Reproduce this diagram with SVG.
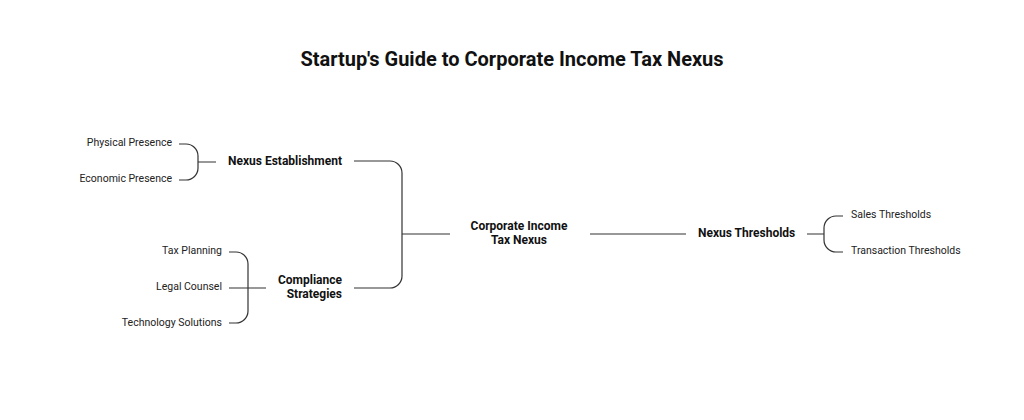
<svg xmlns="http://www.w3.org/2000/svg" width="1024" height="420" viewBox="0 0 1024 420">
<style>
.title{font-family:Roboto,"Liberation Sans",sans-serif;font-weight:700;font-size:20px;fill:#111;}
.node{font-family:Roboto,"Liberation Sans",sans-serif;font-weight:700;font-size:12px;fill:#111;}
.leaf{font-family:Roboto,"Liberation Sans",sans-serif;font-size:10.5px;fill:#222;}
.c{fill:none;stroke:#333;stroke-width:1.2;}
</style>
<rect width="1024" height="420" fill="#fff"/>
<text class="title" x="512" y="66" text-anchor="middle">Startup's Guide to Corporate Income Tax Nexus</text>
<g id="connectors">
<path class="c" d="M179,144 h7 a12,12 0 0 1 12,12 v12 a12,12 0 0 1 -12,12 h-7 M198,162 H216"/>
<path class="c" d="M229,252 h7 a12,12 0 0 1 12,12 v47 a12,12 0 0 1 -12,12 h-7 M229,288 H266"/>
<path class="c" d="M354,161 h36 a12,12 0 0 1 12,12 v103 a12,12 0 0 1 -12,12 h-36 M402,234 H450"/>
<path class="c" d="M590,234 H686"/>
<path class="c" d="M807,234 H824 M843,216 h-7 a12,12 0 0 0 -12,12 v12 a12,12 0 0 0 12,12 h7"/>
</g>
<g id="root"><text class="node" text-anchor="middle"><tspan x="519" y="229.5">Corporate Income</tspan><tspan x="519" y="243.5">Tax Nexus</tspan></text></g>
<g id="nexus-establishment"><text class="node" x="342" y="164.5" text-anchor="end">Nexus Establishment</text></g>
<g id="physical-presence"><text class="leaf" x="172" y="145.5" text-anchor="end">Physical Presence</text></g>
<g id="economic-presence"><text class="leaf" x="172" y="181.5" text-anchor="end">Economic Presence</text></g>
<g id="compliance-strategies"><text class="node" text-anchor="end"><tspan x="342" y="283.5">Compliance</tspan><tspan x="342" y="297.5">Strategies</tspan></text></g>
<g id="tax-planning"><text class="leaf" x="222" y="253.5" text-anchor="end">Tax Planning</text></g>
<g id="legal-counsel"><text class="leaf" x="222" y="289.5" text-anchor="end">Legal Counsel</text></g>
<g id="technology-solutions"><text class="leaf" x="222" y="325.5" text-anchor="end">Technology Solutions</text></g>
<g id="nexus-thresholds"><text class="node" x="698" y="236.5">Nexus Thresholds</text></g>
<g id="sales-thresholds"><text class="leaf" x="851" y="217.5">Sales Thresholds</text></g>
<g id="transaction-thresholds"><text class="leaf" x="851" y="253.5">Transaction Thresholds</text></g>
</svg>
